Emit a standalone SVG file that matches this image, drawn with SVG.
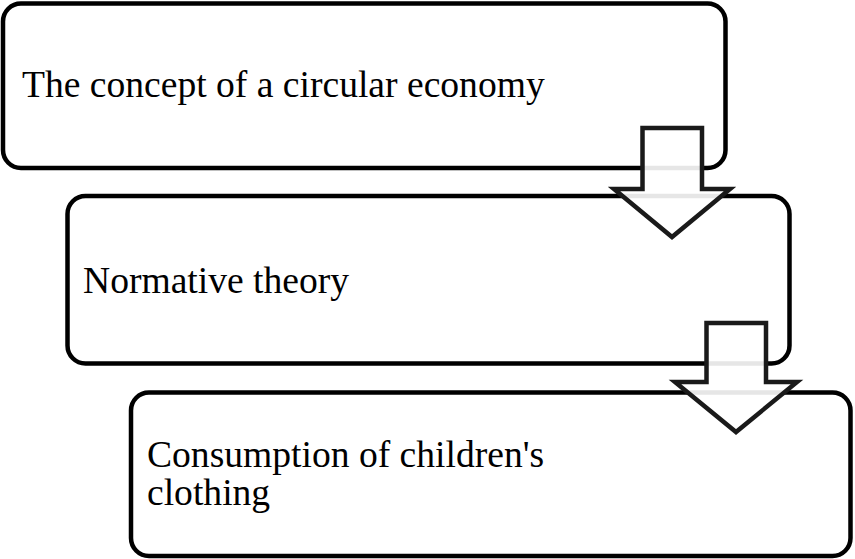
<svg xmlns="http://www.w3.org/2000/svg" width="855" height="559" viewBox="0 0 855 559">
<style>
.box{fill:#fff;stroke:#000;stroke-width:4.5}
.arrow{fill:#fff;fill-opacity:0.9;stroke:#1a1a1a;stroke-width:4.5;stroke-linejoin:miter}
.lbl{font-family:"Liberation Serif","Times New Roman",serif;font-size:37.6px;fill:#000}
</style>
<rect width="855" height="559" fill="#fff"/>
<g id="node1">
<rect class="box" x="3" y="3.5" width="722.5" height="164.5" rx="18" ry="18"/>
<text class="lbl" x="22" y="97">The concept of a circular economy</text>
</g>
<g id="node2">
<rect class="box" x="67.5" y="196" width="722" height="167.5" rx="18" ry="18"/>
<text class="lbl" x="83" y="293">Normative theory</text>
</g>
<g id="node3">
<rect class="box" x="131" y="392.5" width="719.5" height="163.5" rx="18" ry="18"/>
<text class="lbl" x="147" y="467">Consumption of children's</text>
<text class="lbl" x="147" y="505">clothing</text>
</g>
<g id="connectors">
<polygon class="arrow" points="642.5,128 702,128 702,189 730,189 672,237 614,189 642.5,189"/>
<polygon class="arrow" points="706.5,323 766,323 766,382 797,382 736,432 675,382 706.5,382"/>
</g>
</svg>
